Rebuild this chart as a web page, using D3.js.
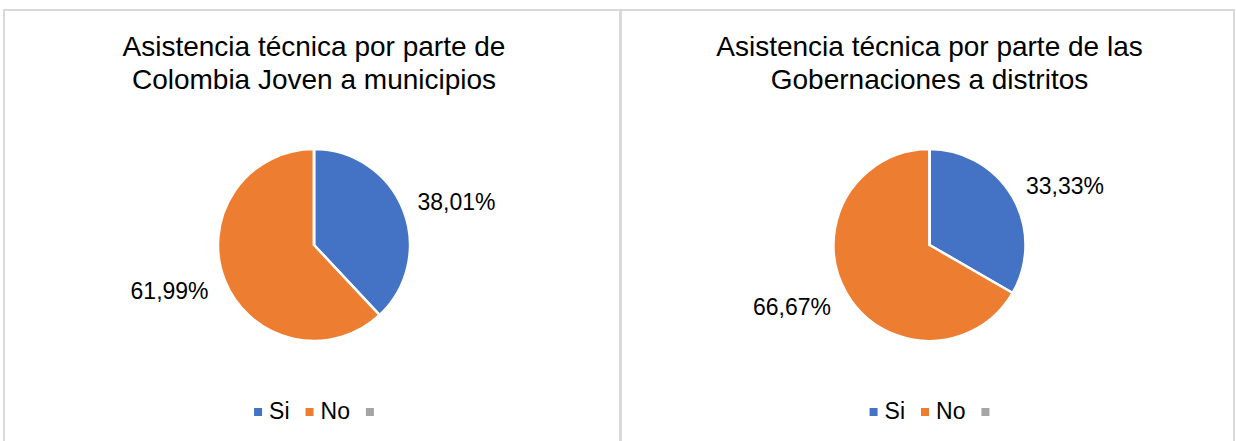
<!DOCTYPE html>
<html>
<head>
<meta charset="utf-8">
<script src="https://cdn.jsdelivr.net/npm/d3@7"></script>
<style>
  body { margin: 0; background: #fff; }
  svg text { font-family: "Liberation Sans", Arial, sans-serif; fill: #000; }
</style>
</head>
<body>
<div id="chart-container"></div>
<script>
const categories = ["Si", "No", ""];
const colors = ["#4472C4", "#ED7D31", "#A5A5A5"];
const titleMunicipios = ["Asistencia técnica por parte de", "Colombia Joven a municipios"];
const titleDistritos = ["Asistencia técnica por parte de las", "Gobernaciones a distritos"];
const municipiosValues = [38.01, 61.99, 0];
const distritosValues = [33.33, 66.67, 0];

const width = 1236, height = 441;
const svg = d3.select("#chart-container").append("svg")
  .attr("width", width).attr("height", height);

const esLocale = d3.formatLocale({decimal: ",", thousands: ".", grouping: [3], currency: ["", " €"]});
const pct = esLocale.format(".2f");
const color = d3.scaleOrdinal().domain(categories).range(colors);

class PiePanel {
  constructor(chart, x, w, title, values) {
    this.chart = chart;
    this.x = x;
    this.w = w;
    this.cx = x + w / 2 + 2;
    this.cy = 245;
    this.radius = 96;
    this.title = title;
    this.values = values;

    this.drawFrame();
    this.drawTitle();
    this.drawSlices();
    this.drawLegend();
  }

  drawFrame() {
    this.chart.append("rect")
      .attr("x", this.x).attr("y", 10)
      .attr("width", this.w).attr("height", 450)
      .attr("fill", "none").attr("stroke", "#d9d9d9").attr("stroke-width", 2);
  }

  drawTitle() {
    this.chart.append("g").selectAll("text")
      .data(this.title).enter().append("text")
      .attr("x", this.cx).attr("y", (d, i) => 56 + i * 33)
      .attr("text-anchor", "middle")
      .style("font-size", "28px")
      .text(d => d);
  }

  drawSlices() {
    const data = categories.map((c, i) => ({category: c, value: this.values[i]}));
    const arcs = d3.pie().sort(null).value(d => d.value)(data);
    const arc = d3.arc().innerRadius(0).outerRadius(this.radius);
    const g = this.chart.append("g").attr("transform", `translate(${this.cx}, ${this.cy})`);

    g.selectAll("path").data(arcs).enter().append("path")
      .attr("d", arc)
      .attr("fill", d => color(d.data.category))
      .attr("stroke", "#fff").attr("stroke-width", 2.5)
      .attr("stroke-linejoin", "round");

    const labelArc = d3.arc().innerRadius(this.radius + 12).outerRadius(this.radius + 12);
    g.selectAll("text").data(arcs.filter(d => d.data.value > 0)).enter().append("text")
      .each(function (d) {
        const mid = (d.startAngle + d.endAngle) / 2;
        const [px, py] = labelArc.centroid(d);
        const right = Math.sin(mid) >= 0;
        const shift = right ? -10 * Math.cos(mid) : -16 * Math.cos(mid);
        d3.select(this)
          .attr("x", px + (right ? 3 : -5))
          .attr("y", py + shift + 8)
          .attr("text-anchor", right ? "start" : "end");
      })
      .style("font-size", "23px")
      .text(d => pct(d.data.value) + "%");
  }

  drawLegend() {
    const box = 8, gapText = 7, gapItem = 16;
    const legend = this.chart.append("g").attr("id", "legend");
    const items = legend.selectAll("g").data(categories).enter().append("g");
    items.append("rect")
      .attr("width", box).attr("height", box).attr("y", 408)
      .attr("fill", d => color(d));
    items.append("text")
      .attr("x", box + gapText).attr("y", 419)
      .style("font-size", "23px")
      .text(d => d);

    let offset = 0;
    const widths = [];
    items.each(function () {
      const t = d3.select(this).select("text").node().getComputedTextLength();
      widths.push(t > 0 ? box + gapText + t : box);
    });
    const total = d3.sum(widths) + gapItem * (widths.length - 1);
    const start = this.cx - total / 2;
    items.attr("transform", (d, i) => {
      const pos = start + offset;
      offset += widths[i] + gapItem;
      return `translate(${pos}, 0)`;
    });
  }
}

new PiePanel(svg, 4, 616, titleMunicipios, municipiosValues);
new PiePanel(svg, 621, 613, titleDistritos, distritosValues);
</script>
</body>
</html>
